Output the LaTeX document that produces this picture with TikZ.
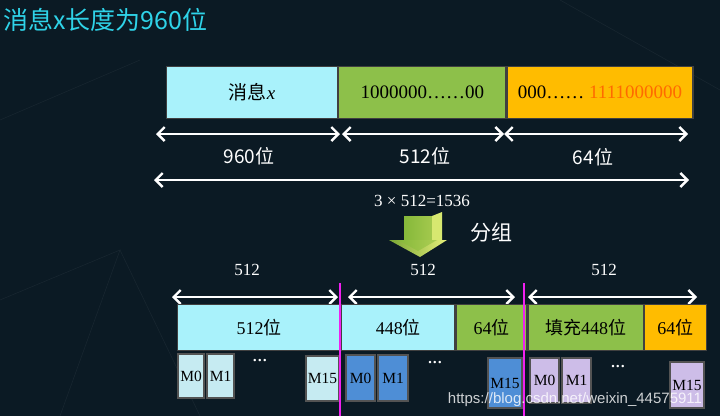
\documentclass[tikz,border=0pt]{standalone}
\usepackage{fontspec}
\setmainfont{Liberation Serif}
\newfontfamily\cjk{Noto Sans CJK SC}
\newfontfamily\wm{Liberation Sans}
\usetikzlibrary{arrows.meta}
\definecolor{bg}{HTML}{0B1A24}
\definecolor{cyanbox}{HTML}{A9F2FB}
\definecolor{greenbox}{HTML}{8DC04A}
\definecolor{orangebox}{HTML}{FFBC00}
\definecolor{titlec}{HTML}{2FD3E8}
\definecolor{redtxt}{HTML}{FF6A00}
\definecolor{mag}{HTML}{F020F0}
\definecolor{mcyan}{HTML}{C6EBF2}
\definecolor{mblue}{HTML}{4E8ED6}
\definecolor{mlav}{HTML}{CDBDE8}
\definecolor{edgec}{HTML}{404040}
\definecolor{arrg}{HTML}{86B83A}
\definecolor{arry}{HTML}{E6F07A}
\begin{document}
\begin{tikzpicture}[x=1pt,y=-1pt,
  seg/.style={draw=edgec,line width=1.2pt,inner sep=0pt,anchor=north west,minimum height=#1,font=\fontsize{19}{19}\selectfont},
  mbox/.style={draw=edgec!90,line width=2.2pt,inner sep=0pt,anchor=north west,font=\fontsize{15.5}{15.5}\selectfont},
  dim/.style={white,line width=2.4pt,{Straight Barb[length=7pt,width=14pt]}-{Straight Barb[length=7pt,width=14pt]}},
  lbl/.style={text=white,font=\cjk\fontsize{19}{19}\selectfont},
  numlbl/.style={text=white,font=\fontsize{17}{17}\selectfont},
  dots/.style={text=white,font=\bfseries\fontsize{15}{15}\selectfont},
  cut/.style={mag,line width=2.8pt}
]
\useasboundingbox (0,0) rectangle (720,416);
\fill[bg] (0,0) rectangle (720,416);
% faint background texture
\draw[white,opacity=0.05,line width=0.6pt] (0,300) -- (120,250) -- (60,416);
\draw[white,opacity=0.05,line width=0.6pt] (120,250) -- (200,416);
\draw[white,opacity=0.05,line width=0.6pt] (560,0) -- (720,90);
\draw[white,opacity=0.05,line width=0.6pt] (0,120) -- (140,60);

% title
\node[anchor=west,text=titlec,font=\cjk\fontsize{25}{25}\selectfont,inner sep=0pt] (title) at (3,20) {消息x长度为960位};

% top bar
\node[seg=52pt,fill=cyanbox,minimum width=171pt] (t1) at (166,66) {{\cjk\fontsize{19}{19}\selectfont 消息}\textit{x}};
\node[seg=52pt,fill=greenbox,minimum width=167pt] (t2) at (t1.north east) {1000000……00};
\node[seg=52pt,fill=orangebox,minimum width=186pt] (t3) at (t2.north east) {000…… \textcolor{redtxt}{1111000000}};

% dimension arrows row 1
\coordinate (a0) at (156,134);
\coordinate (a1) at (340,134);
\coordinate (a1b) at (342,134);
\coordinate (a2) at (504,134);
\coordinate (a3) at (688,134);
\draw[dim] (a0) -- (a1);
\draw[dim] (a1b) -- (a2);
\draw[dim] (a2) -- (a3);
\node[lbl] (l1) at (249,156) {960位};
\node[lbl] (l2) at (425,156) {512位};
\node[lbl] (l3) at (593,157) {64位};

% row 2
\coordinate (b0) at (154,180);
\coordinate (b1) at (689,180);
\draw[dim] (b0) -- (b1);
\node[numlbl] (tot) at (422,201) {3 × 512=1536};

% green down arrow
\shade[left color=arrg,right color=arrg!70!arry] (404,216) rectangle (432,240);
\fill[arry!85!arrg] (432,216) -- (442,212) -- (442,240) -- (432,240) -- cycle;
\shade[left color=arrg!90!black,right color=arry] (389,240) -- (447,240) -- (420,257) -- cycle;
\shade[left color=arrg,right color=arrg!60!arry] (398,240) -- (437,240) -- (418,251) -- cycle;
\node[text=white,font=\cjk\fontsize{21}{21}\selectfont] (fz) at (491,233) {分组};

% bottom labels and arrows
\node[numlbl] (n1) at (247,270) {512};
\node[numlbl] (n2) at (423,270) {512};
\node[numlbl] (n3) at (604,270) {512};
\coordinate (c0) at (172,297);
\coordinate (c1) at (338,297);
\coordinate (c2) at (348,297);
\coordinate (c3) at (515,297);
\coordinate (c4) at (528,297);
\coordinate (c5) at (697,297);
\draw[dim] (c0) -- (c1);
\draw[dim] (c2) -- (c3);
\draw[dim] (c4) -- (c5);

% bottom bar
\node[seg=46pt,fill=cyanbox,minimum width=163pt,font=\fontsize{18}{18}\selectfont] (s1) at (177,304) {512{\cjk 位}};
\node[seg=46pt,fill=cyanbox,minimum width=113pt,font=\fontsize{18}{18}\selectfont] (s2) at (s1.north east) {448{\cjk 位}};
\node[seg=46pt,fill=greenbox,minimum width=71pt,font=\fontsize{18}{18}\selectfont] (s3) at (s2.north east) {64{\cjk 位}};
\node[seg=46pt,fill=greenbox,minimum width=115pt,font=\fontsize{18}{18}\selectfont] (s4) at (s3.north east) {{\cjk 填充}448{\cjk 位}};
\node[seg=46pt,fill=orangebox,minimum width=62pt,font=\fontsize{18}{18}\selectfont] (s5) at (s4.north east) {64{\cjk 位}};

% small boxes group 1
\node[mbox,fill=mcyan,minimum width=26pt,minimum height=44pt] (g1m0) at (177,353) {M0};
\node[mbox,fill=mcyan,minimum width=27pt,minimum height=44pt] (g1m1) at (206,353) {M1};
\node[dots] (d1) at (260,362) {···};
\node[mbox,fill=mcyan,minimum width=33pt,minimum height=45pt] (g1m15) at (305,355) {M15};
% group 2
\node[mbox,fill=mblue,minimum width=29pt,minimum height=46pt] (g2m0) at (345,354) {M0};
\node[mbox,fill=mblue,minimum width=30pt,minimum height=46pt] (g2m1) at (377,354) {M1};
\node[dots] (d2) at (435,364) {···};
\node[mbox,fill=mblue,minimum width=34pt,minimum height=50pt] (g2m15) at (487,357) {M15};
% group 3
\node[mbox,fill=mlav,minimum width=29pt,minimum height=45pt] (g3m0) at (529,357) {M0};
\node[mbox,fill=mlav,minimum width=29pt,minimum height=45pt] (g3m1) at (561,357) {M1};
\node[dots] (d3) at (618,368) {···};
\node[mbox,fill=mlav,minimum width=34pt,minimum height=46pt] (g3m15) at (669,361) {M15};

% magenta cut lines
\coordinate (m1t) at (340,283);
\coordinate (m1b) at (340,416);
\coordinate (m2t) at (524,283);
\coordinate (m2b) at (524,416);
\draw[cut] (m1t) -- (m1b);
\draw[cut] (m2t) -- (m2b);

% watermark
\node[text=white,opacity=0.8,font=\wm\fontsize{15}{15}\selectfont] (wmk) at (575,400) {https://blog.csdn.net/weixin\_44575911};
\end{tikzpicture}
\end{document}
